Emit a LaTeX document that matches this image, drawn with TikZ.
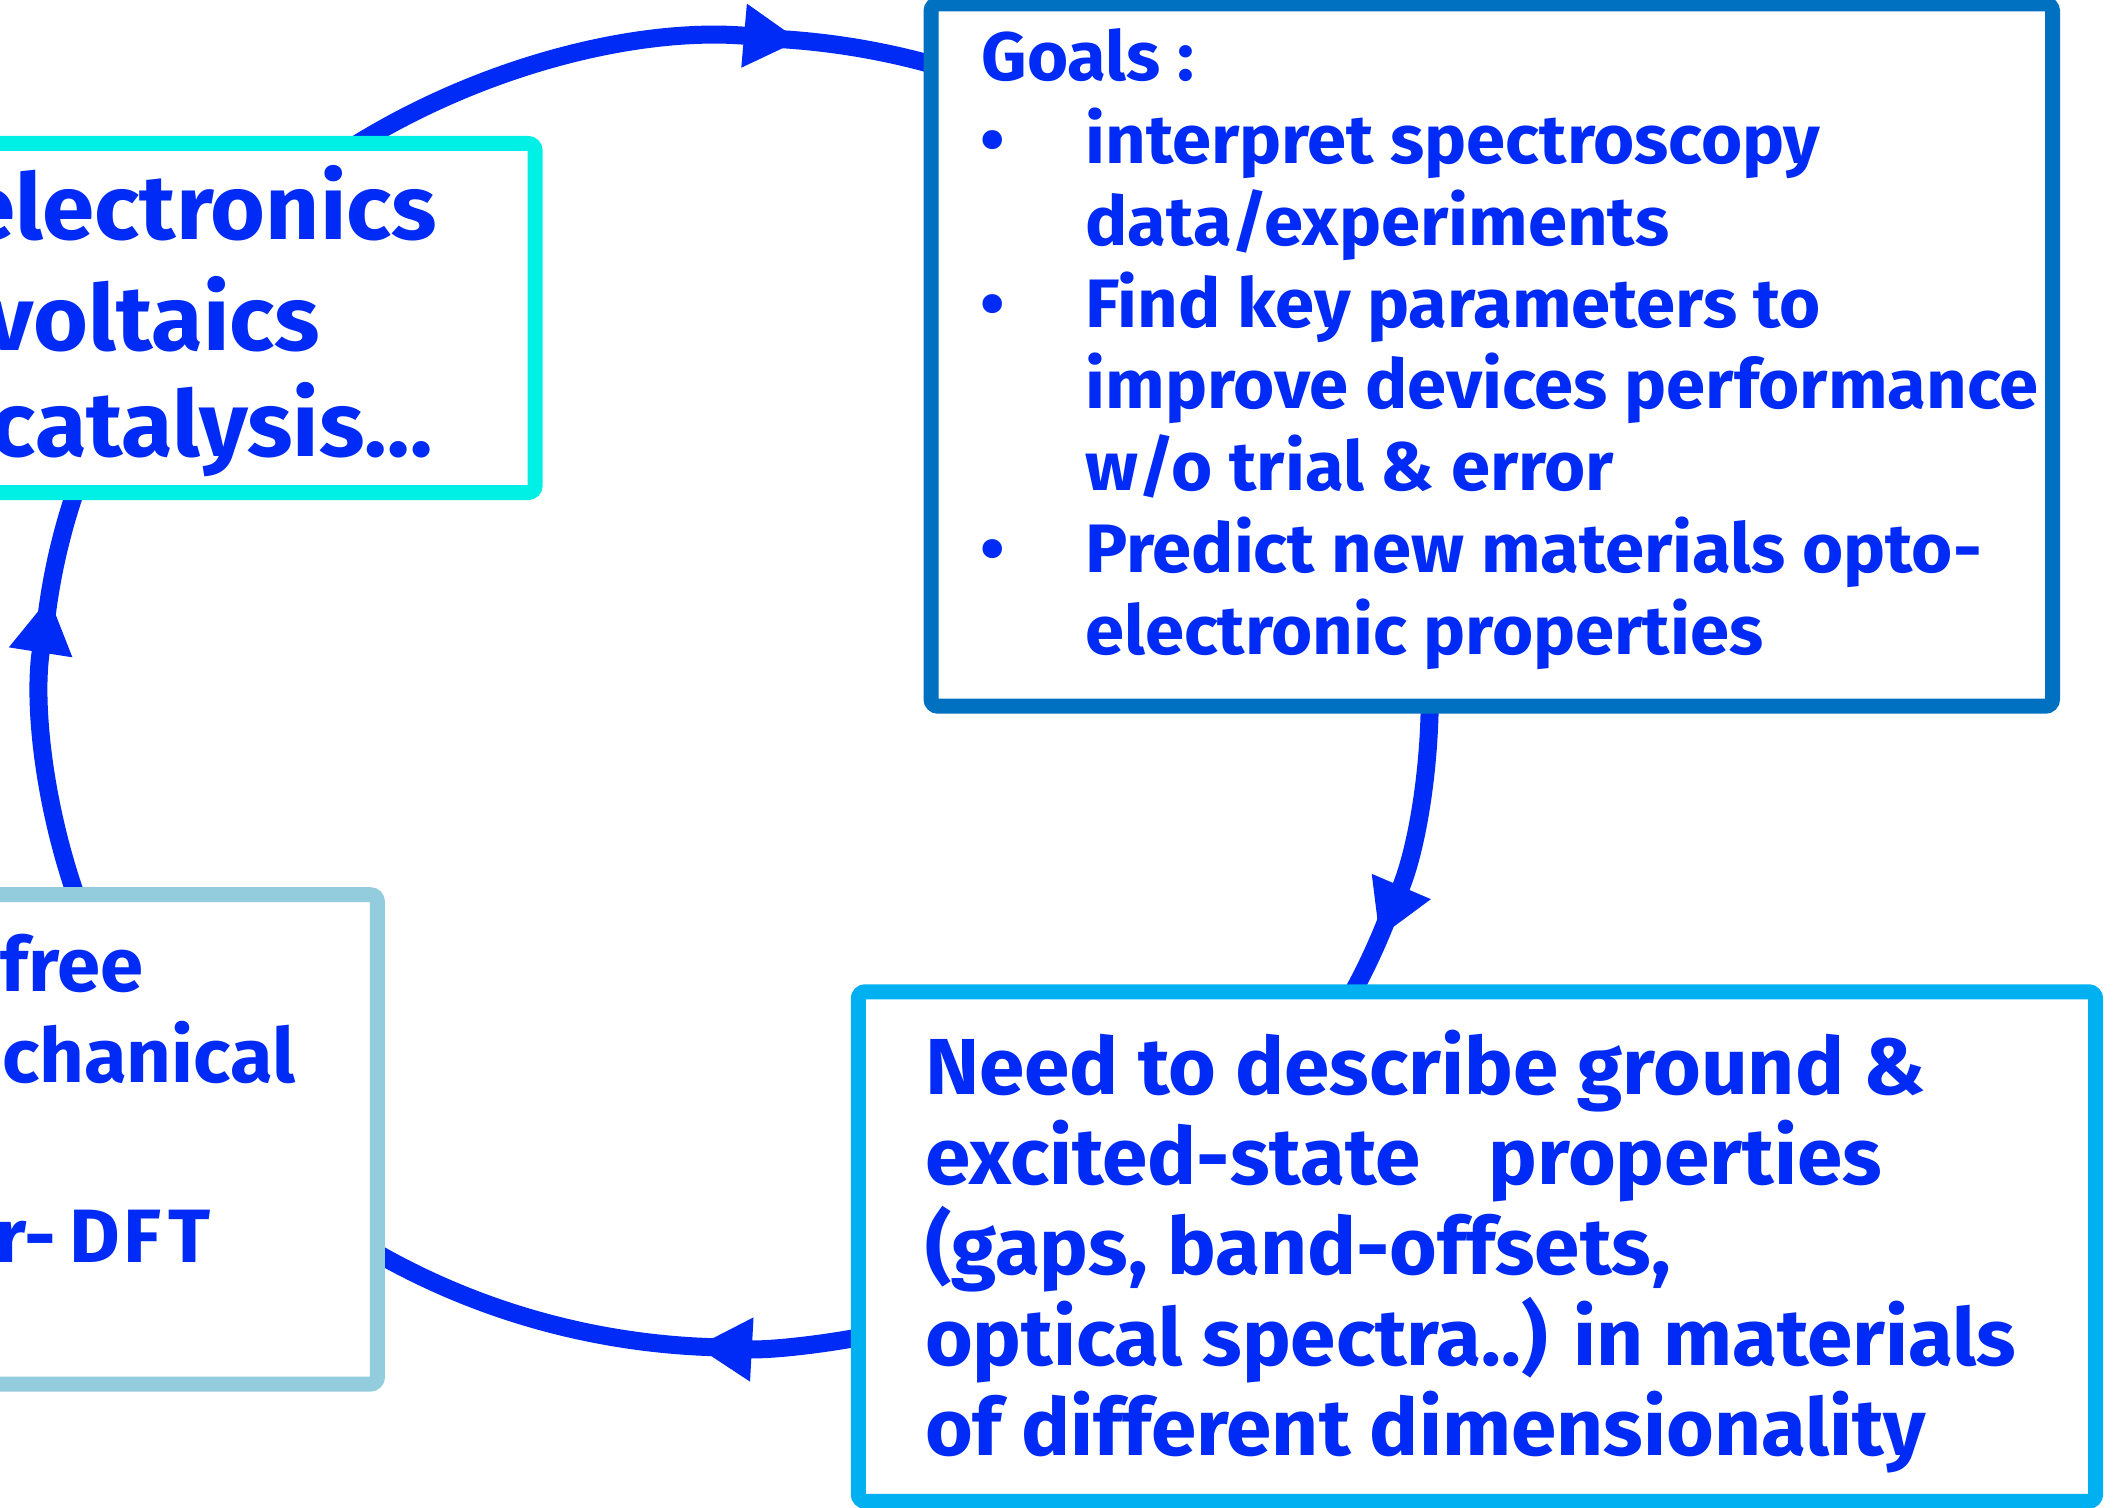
\documentclass[tikz,border=0pt]{standalone}
\usepackage{fontspec}
\newfontfamily\cfont{Fira Sans}[FakeStretch=1.03]
\usetikzlibrary{arrows.meta}
\definecolor{tblue}{RGB}{0,42,245}
\definecolor{cyanb}{RGB}{0,240,230}
\definecolor{goalb}{RGB}{0,112,192}
\definecolor{needb}{RGB}{0,176,240}
\definecolor{methb}{RGB}{147,205,221}
\tikzset{
  box/.style={draw, fill=white, line width=0.15cm, rounded corners=2pt, inner sep=0pt},
  cycline/.style={draw=tblue, line width=0.18cm},
  cycarrow/.style={cycline, -{Triangle[length=0.56cm, width=0.6cm]}},
  gtxt/.style={inner sep=0pt, text=tblue, anchor=base west, font=\cfont\bfseries\fontsize{19.5}{23}\selectfont},
  ntxt/.style={inner sep=0pt, text=tblue, anchor=base west, font=\cfont\bfseries\fontsize{22.6}{27}\selectfont},
  atxt/.style={inner sep=0pt, text=tblue, anchor=base east, font=\cfont\bfseries\fontsize{26}{31}\selectfont},
  mtxt/.style={inner sep=0pt, text=tblue, anchor=base west, font=\cfont\bfseries\fontsize{21.5}{26}\selectfont},
  bul/.style={inner sep=0pt, text=tblue, anchor=base, font=\cfont\bfseries\fontsize{19.5}{23}\selectfont},
}
\begin{document}
\begin{tikzpicture}[x=0.013476cm, y=-0.013476cm]
\useasboundingbox (0,0) rectangle (1568,1119);
\clip (0,0) rectangle (1568,1119);

% points on the cycle (ellipse centre (546,514), radii 515 x 486)
\coordinate (t0) at ({546+515*cos(-125)},{514+486*sin(-125)});
\coordinate (t1) at ({546+515*cos(-87.7)},{514+486*sin(-87.7)});
\coordinate (r0) at ({546+515*cos(-3)},{514+486*sin(-3)});
\coordinate (r1) at ({546+515*cos(19)},{514+486*sin(19)});
\coordinate (b0) at ({546+515*cos(75)},{514+486*sin(75)});
\coordinate (b1) at ({546+515*cos(90.3)},{514+486*sin(90.3)});
\coordinate (l0) at ({546+515*cos(160)},{514+486*sin(160)});
\coordinate (l1) at ({546+515*cos(185.4)},{514+486*sin(185.4)});

% connectors
\draw[cycarrow] (t0) arc[start angle=-125, end angle=-84.7, x radius=515, y radius=486];
\draw[cycline]  (t1) arc[start angle=-87.7, end angle=-70, x radius=515, y radius=486];
\draw[cycarrow] (r0) arc[start angle=-3, end angle=22, x radius=515, y radius=486];
\draw[cycline]  (r1) arc[start angle=19, end angle=30, x radius=515, y radius=486];
\draw[cycarrow] (b0) arc[start angle=75, end angle=93.3, x radius=515, y radius=486];
\draw[cycline]  (b1) arc[start angle=90.3, end angle=125, x radius=515, y radius=486];
\draw[cycarrow] (l0) arc[start angle=160, end angle=188.4, x radius=515, y radius=486];
\draw[cycline]  (l1) arc[start angle=185.4, end angle=200, x radius=515, y radius=486];

% boxes
\node[box, draw=cyanb, minimum width=9.393cm, minimum height=3.490cm] (apps) at (48.5,236) {};
\node[box, draw=goalb, minimum width=11.212cm, minimum height=7.021cm] (goals) at (1107,263.5) {};
\node[box, draw=needb, minimum width=12.371cm, minimum height=5.094cm] (need) at (1096,925) {};
\node[box, draw=methb, minimum width=7.816cm, minimum height=4.892cm] (meth) at (-10,845.5) {};

% applications box text
\node[atxt] (a1) at (325,178) {electronics};
\node[atxt] (a2) at (238,260) {voltaics};
\node[atxt] (a3) at (322,339) {catalysis…};

% goals box text
\node[gtxt] (g0) at (728,60) {Goals :};
\node[bul] (gb1) at (737,121) {•};
\node[bul] (gb2) at (737,243) {•};
\node[bul] (gb3) at (737,425) {•};
\node[gtxt] (g1) at (805,121) {interpret spectroscopy};
\node[gtxt] (g2) at (805,182) {data/experiments};
\node[gtxt] (g3) at (805,243) {Find key parameters to};
\node[gtxt] (g4) at (805,303) {improve devices performance};
\node[gtxt] (g5) at (805,364) {w/o trial \& error};
\node[gtxt] (g6) at (805,425) {Predict new materials opto-};
\node[gtxt] (g7) at (805,486) {electronic properties};

% need box text
\node[ntxt] (n1) at (686,812) {Need to describe ground \&};
\node[ntxt] (n2) at (686,879) {excited-state\hspace{19.5pt}properties};
\node[ntxt] (n3) at (686,946) {(gaps, band-offsets,};
\node[ntxt] (n4) at (686,1013) {optical spectra..) in materials};
\node[ntxt] (n5) at (686,1080) {of different dimensionality};

% methods box text
\node[mtxt] (m1) at (0,736) {free};
\node[mtxt] (m2) at (1,803) {chanical};
\node[mtxt, anchor=base east] (m3a) at (42,937) {r-};
\node[mtxt, anchor=base east] (m3b) at (157,937) {D\kern1pt F\kern2pt T};
\end{tikzpicture}
\end{document}
